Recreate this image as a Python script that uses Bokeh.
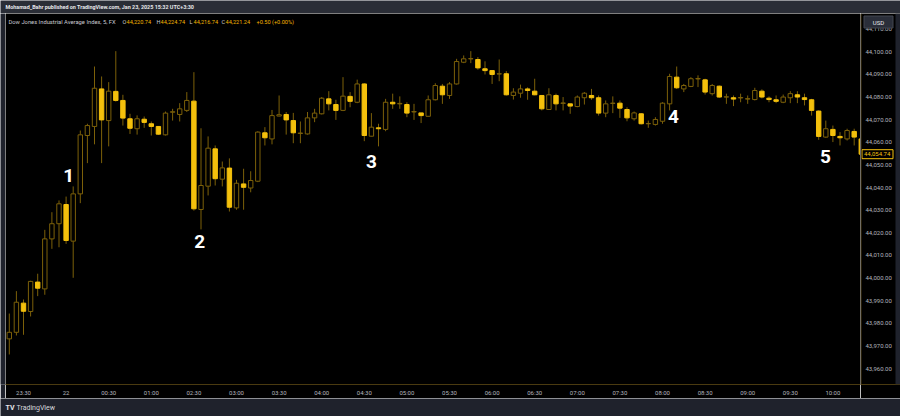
from bokeh.plotting import figure
from bokeh.models import ColumnDataSource, FixedTicker, Label, Range1d, Span, BoxAnnotation
from bokeh.layouts import column, row
from bokeh.embed import file_html
from bokeh.resources import INLINE
from bokeh.core.properties import value

# ---------------- data (5-minute candles) ----------------
opens = [43973.1, 43976.0, 43988.9, 43985.2, 43998.2, 43995.2, 44017.3, 44024.0, 44032.5, 44016.3,
         44037.2, 44063.0, 44067.0, 44083.6, 44069.6, 44082.5, 44078.5, 44070.4, 44066.0, 44070.2,
         44068.2, 44067.0, 44063.3, 44073.3, 44072.3, 44074.1, 44078.2, 44030.3, 44040.6, 44057.1,
         44043.7, 44048.6, 44031.0, 44041.6, 44039.8, 44042.8, 44064.2, 44061.5, 44071.6, 44072.3,
         44069.6, 44063.9, 44063.7, 44070.8, 44072.6, 44079.2, 44076.7, 44074.1, 44080.3, 44077.7,
         44085.8, 44062.7, 44066.4, 44065.7, 44077.7, 44077.0, 44076.7, 44073.4, 44073.0, 44071.5,
         44078.8, 44084.8, 44080.7, 44085.8, 44095.4, 44096.9, 44096.6, 44092.5, 44091.7, 44090.2,
         44090.3, 44080.7, 44081.7, 44083.6, 44082.6, 44080.7, 44074.5, 44080.7, 44077.2, 44077.0,
         44075.8, 44079.7, 44080.7, 44079.7, 44072.9, 44077.2, 44077.3, 44074.5, 44070.4, 44072.6,
         44068.2, 44067.9, 44069.3, 44077.0, 44088.8, 44083.6, 44084.7, 44088.0, 44087.6, 44081.5,
         44084.8, 44080.0, 44079.7, 44079.6, 44079.1, 44078.9, 44082.6, 44079.5, 44078.8, 44077.7,
         44079.7, 44081.0, 44079.7, 44078.8, 44073.8, 44062.3, 44065.7, 44062.6, 44061.5, 44064.8,
         44061.5]
highs = [43984.3, 43994.2, 43990.5, 43998.8, 44001.9, 44021.3, 44029.1, 44034.3, 44036.0, 44040.5,
         44065.2, 44068.2, 44093.5, 44089.1, 44086.6, 44100.3, 44081.0, 44072.6, 44071.9, 44071.4,
         44069.2, 44067.2, 44073.6, 44074.8, 44077.3, 44082.2, 44091.0, 44066.2, 44062.6, 44058.6,
         44051.5, 44052.9, 44043.4, 44048.3, 44047.2, 44064.9, 44066.7, 44074.3, 44080.7, 44073.4,
         44073.0, 44069.2, 44073.4, 44074.8, 44080.0, 44082.6, 44078.8, 44088.8, 44082.2, 44087.7,
         44086.1, 44072.9, 44068.2, 44079.2, 44081.5, 44080.3, 44077.7, 44077.0, 44073.0, 44080.7,
         44086.1, 44085.8, 44086.6, 44096.9, 44098.4, 44100.3, 44097.7, 44095.8, 44091.7, 44096.6,
         44091.5, 44083.9, 44085.5, 44084.3, 44088.1, 44080.7, 44083.9, 44081.5, 44080.0, 44077.0,
         44080.7, 44082.2, 44083.6, 44080.7, 44078.5, 44080.3, 44078.5, 44075.5, 44073.6, 44072.9,
         44069.6, 44071.1, 44077.7, 44090.3, 44093.5, 44085.8, 44088.8, 44089.6, 44088.1, 44085.8,
         44085.1, 44081.5, 44080.7, 44081.5, 44080.7, 44084.1, 44083.4, 44080.3, 44080.7, 44081.1,
         44082.6, 44082.6, 44081.5, 44079.2, 44074.1, 44069.6, 44067.4, 44064.5, 44066.0, 44066.0,
         44061.8]
lows = [43966.2, 43974.6, 43974.9, 43983.0, 43992.0, 43992.6, 44012.9, 44013.6, 44015.1, 44000.1,
        44033.1, 44050.8, 44059.1, 44050.8, 44058.2, 44078.0, 44067.4, 44063.7, 44063.4, 44066.4,
        44063.0, 44063.3, 44063.0, 44069.6, 44069.2, 44073.4, 44029.8, 44021.5, 44036.5, 44040.9,
        44040.5, 44029.4, 44030.2, 44030.2, 44037.9, 44042.4, 44058.6, 44059.1, 44071.5, 44063.4,
        44059.6, 44059.6, 44063.4, 44068.9, 44072.3, 44074.1, 44069.9, 44073.8, 44075.5, 44077.3,
        44060.5, 44062.6, 44058.2, 44064.9, 44074.8, 44074.8, 44071.1, 44069.9, 44068.5, 44071.4,
        44078.5, 44077.0, 44079.2, 44085.5, 44095.0, 44095.0, 44092.1, 44090.0, 44085.8, 44087.0,
        44080.7, 44078.9, 44079.7, 44078.8, 44080.8, 44074.1, 44074.5, 44074.1, 44074.1, 44072.6,
        44075.5, 44076.7, 44078.8, 44071.8, 44071.1, 44072.9, 44070.8, 44069.3, 44069.6, 44067.9,
        44066.4, 44067.4, 44068.2, 44074.1, 44083.6, 44082.2, 44084.4, 44084.4, 44081.1, 44080.7,
        44079.7, 44077.0, 44076.0, 44077.7, 44077.0, 44078.5, 44079.4, 44077.7, 44077.3, 44077.3,
        44077.3, 44077.3, 44076.3, 44071.8, 44061.1, 44062.0, 44060.1, 44058.6, 44060.8, 44058.6,
        44054.5]
closes = [43976.0, 43989.3, 43985.3, 43998.5, 43995.5, 44017.3, 44024.0, 44032.8, 44016.6, 44037.2,
          44063.3, 44067.4, 44083.9, 44069.9, 44082.6, 44078.5, 44070.7, 44066.2, 44070.4, 44068.8,
          44067.0, 44063.6, 44072.9, 44073.5, 44074.8, 44078.5, 44030.6, 44040.9, 44057.4, 44043.9,
          44048.7, 44031.3, 44041.9, 44040.1, 44043.1, 44064.5, 44062.0, 44071.8, 44072.2, 44069.9,
          44064.2, 44064.1, 44070.8, 44072.9, 44079.5, 44077.0, 44074.1, 44080.4, 44078.1, 44085.8,
          44063.0, 44066.7, 44066.0, 44077.7, 44077.0, 44077.2, 44072.9, 44073.6, 44071.8, 44078.8,
          44085.1, 44081.0, 44085.8, 44095.7, 44096.9, 44097.0, 44092.9, 44091.7, 44090.0, 44090.3,
          44081.0, 44082.2, 44083.6, 44082.9, 44081.0, 44074.8, 44081.0, 44077.0, 44077.4, 44076.0,
          44080.0, 44081.7, 44079.7, 44072.9, 44077.0, 44077.3, 44075.1, 44070.8, 44073.0, 44068.2,
          44068.3, 44070.1, 44077.3, 44089.1, 44084.1, 44085.1, 44088.1, 44088.2, 44082.2, 44085.1,
          44080.0, 44080.1, 44079.1, 44079.8, 44079.3, 44082.9, 44080.0, 44078.9, 44078.1, 44080.0,
          44081.5, 44080.0, 44078.9, 44074.1, 44062.6, 44066.0, 44063.0, 44062.0, 44065.2, 44062.3,
          44054.74]

time_tick_idx = [2, 8, 14, 20, 26, 32, 38, 44, 50, 56, 62, 68, 74, 80, 86, 92, 98, 104, 110, 116]
time_tick_labels = ["23:30", "22", "00:30", "01:00", "02:30", "03:00", "03:30", "04:00", "04:30", "05:00",
                    "05:30", "06:00", "06:30", "07:00", "07:30", "08:00", "08:30", "09:00", "09:30", "10:00"]
price_ticks = [43960, 43970, 43980, 43990, 44000, 44010, 44020, 44030, 44040, 44050,
               44060, 44070, 44080, 44090, 44100, 44110]

wave_labels = ["1", "2", "3", "4", "5"]
wave_x = [8.35, 26.8, 51.0, 93.55, 114.95]
wave_y = [44045.3, 44016.1, 44051.5, 44071.4, 44053.7]

title_text = "Mohamad_Bahr published on TradingView.com, Jan 23, 2025 15:32 UTC+3:30"
legend_name = "Dow Jones Industrial Average Index, 5, FX"
legend_keys = ["O", "H", "L", "C"]
legend_vals = ["44,220.74", "44,224.74", "44,216.74", "44,221.24"]
legend_change = "+0.50 (+0.00%)"
currency = "USD"

# ---------------- style / geometry ----------------
BRIGHT = "#f4c00c"
DARK = "#7c6009"
AXIS_LINE = "#4a3a10"
TXT = "#b2b5be"
HEAD_BG = "#2a2d36"
FOOT_BG = "#1f222c"
FONT = "Roboto"

HEAD_H = 13          # page rows 0..13
ROW_H = 385          # page rows 13..398 (frame 13..384, time axis 384..398)
AXIS_H = 14
FOOT_H = 18          # page rows 398..416
LEFT_W = 5
MAIN_W = 855         # page cols 5..860
RIGHT_W = 40         # page cols 860..900
X0, XSTEP = 8.8, 7.1
Y_REF, P_REF, YSCALE = 368.0, 43960.0, 2.262


def px_to_x(px):
    return (px - X0) / XSTEP


def py_to_y(py):
    return P_REF + (Y_REF - py) / YSCALE


def bare(fig, bg):
    fig.background_fill_color = bg
    fig.border_fill_color = bg
    fig.outline_line_color = None
    return fig


def style_axis(ax, labels=True):
    ax.axis_line_color = AXIS_LINE
    ax.major_tick_line_color = None
    ax.minor_tick_line_color = None
    ax.major_tick_out = 0
    ax.major_tick_in = 0
    ax.minor_tick_out = 0
    ax.minor_tick_in = 0
    ax.major_label_text_color = TXT
    ax.major_label_text_font = FONT
    ax.major_label_text_font_size = "6px" if labels else "0px"
    ax.major_label_standoff = 4


n = len(closes)
idx = list(range(n))
up = [c >= o for o, c in zip(opens, closes)]

wick_src = ColumnDataSource(dict(x=idx, high=highs, low=lows))
up_src = ColumnDataSource(dict(
    x=[i for i in idx if up[i]],
    top=[closes[i] for i in idx if up[i]],
    bottom=[opens[i] for i in idx if up[i]]))
dn_src = ColumnDataSource(dict(
    x=[i for i in idx if not up[i]],
    top=[opens[i] for i in idx if not up[i]],
    bottom=[closes[i] for i in idx if not up[i]]))

# ---------------- header ----------------
head = bare(figure(width=900, height=HEAD_H, x_range=Range1d(0, 900), y_range=Range1d(0, HEAD_H),
                   toolbar_location=None, output_backend="svg", x_axis_type=None, y_axis_type=None,
                   min_border=0), HEAD_BG)
head.add_layout(Label(x=5, y=HEAD_H / 2, text=title_text, text_color="#e6e7ea", text_font=FONT,
                      text_font_size="5.4px", text_font_style="bold", text_baseline="middle"))

# ---------------- left strip ----------------
left = bare(figure(width=LEFT_W, height=ROW_H, toolbar_location=None, output_backend="svg",
                   x_axis_type=None, y_axis_type=None, min_border=0), FOOT_BG)

# ---------------- main chart ----------------
y_rng = Range1d(py_to_y(13 + ROW_H - AXIS_H), py_to_y(13))
p = figure(width=MAIN_W, height=ROW_H,
           x_range=Range1d(px_to_x(5), px_to_x(860)), y_range=y_rng,
           toolbar_location=None, output_backend="svg", y_axis_location=None,
           min_border_left=0, min_border_top=0, min_border_right=0, min_border_bottom=AXIS_H)
bare(p, "black")
p.grid.visible = False

p.segment(x0="x", y0="high", x1="x", y1="low", source=wick_src, line_color=DARK, line_width=1)
p.vbar(x="x", top="top", bottom="bottom", width=0.62, source=up_src,
       fill_color="black", line_color=DARK, line_width=1)
p.vbar(x="x", top="top", bottom="bottom", width=0.62, source=dn_src,
       fill_color=BRIGHT, line_color=BRIGHT, line_width=1)

p.text(x=wave_x, y=wave_y, text=wave_labels, text_color="white", text_font=value(FONT),
       text_font_size=value("19px"), text_font_style="bold", text_align="center",
       text_baseline="middle")

xa = p.xaxis[0]
xa.ticker = FixedTicker(ticks=time_tick_idx)
xa.major_label_overrides = {i: s for i, s in zip(time_tick_idx, time_tick_labels)}
style_axis(xa)

ly = py_to_y(21)
LEG_FS = "5.6px"
p.add_layout(Label(x=px_to_x(8), y=ly, text=legend_name, text_color="#c8cad0", text_font=FONT,
                   text_font_size="5.8px", text_baseline="middle"))
key_px = [122, 156, 189, 221]
for k, v, kx in zip(legend_keys, legend_vals, key_px):
    p.add_layout(Label(x=px_to_x(kx), y=ly, text=k, text_color="#c8cad0", text_font=FONT,
                       text_font_size=LEG_FS, text_baseline="middle"))
    p.add_layout(Label(x=px_to_x(kx + 4), y=ly, text=v, text_color="#f0b400", text_font=FONT,
                       text_font_size=LEG_FS, text_baseline="middle"))
p.add_layout(Label(x=px_to_x(256), y=ly, text=legend_change, text_color="#f0b400", text_font=FONT,
                   text_font_size=LEG_FS, text_baseline="middle"))

# ---------------- price scale (own figure, sharing the price range) ----------------
r = bare(figure(width=RIGHT_W, height=ROW_H, x_range=Range1d(0, RIGHT_W), y_range=y_rng,
                toolbar_location=None, output_backend="svg", y_axis_type=None,
                min_border_left=0, min_border_top=0, min_border_right=0, min_border_bottom=AXIS_H),
         "black")
r.grid.visible = False
r.xaxis[0].ticker = FixedTicker(ticks=[])
style_axis(r.xaxis[0], labels=False)
r.add_layout(Span(location=0.5, dimension="height", line_color=AXIS_LINE, line_width=1))
r.text(x=[5] * len(price_ticks), y=price_ticks, text=[f"{t:,.2f}" for t in price_ticks],
       text_color=TXT, text_font=value(FONT), text_font_size=value("6px"), text_baseline="middle")
# last price tag
r.rect(x=[17], y=[closes[-1]], width=31, height=9, height_units="screen",
       fill_color="black", line_color=BRIGHT, line_width=1)
r.text(x=[3.5], y=[closes[-1]], text=[f"{closes[-1]:,.2f}"], text_color=BRIGHT,
       text_font=value(FONT), text_font_size=value("6px"), text_baseline="middle")
# currency button
r.rect(x=[18], y=[py_to_y(21.5)], width=29, height=12, height_units="screen",
       fill_color="#2a2e39", line_color="#434651", line_width=1)
r.text(x=[18], y=[py_to_y(21.5)], text=[currency], text_color="#e6e7ea", text_font=value(FONT),
       text_font_size=value("6px"), text_align="center", text_baseline="middle")
r.add_layout(BoxAnnotation(left=35, right=RIGHT_W, fill_color=FOOT_BG, fill_alpha=1,
                           line_color=None))

# ---------------- footer ----------------
foot = bare(figure(width=900, height=FOOT_H, x_range=Range1d(0, 900), y_range=Range1d(0, FOOT_H),
                   toolbar_location=None, output_backend="svg", x_axis_type=None, y_axis_type=None,
                   min_border=0), FOOT_BG)
foot.add_layout(Label(x=5, y=FOOT_H / 2, text="TV", text_color="#e6e7ea", text_font=FONT,
                      text_font_size="7px", text_font_style="bold", text_baseline="middle"))
foot.add_layout(Label(x=16, y=FOOT_H / 2, text="TradingView", text_color="#d8d9dd", text_font=FONT,
                      text_font_size="7px", text_baseline="middle"))

layout = column(head, row(left, p, r, spacing=0), foot, spacing=0)

with open("out.html", "w") as f:
    f.write(file_html(layout, INLINE))
